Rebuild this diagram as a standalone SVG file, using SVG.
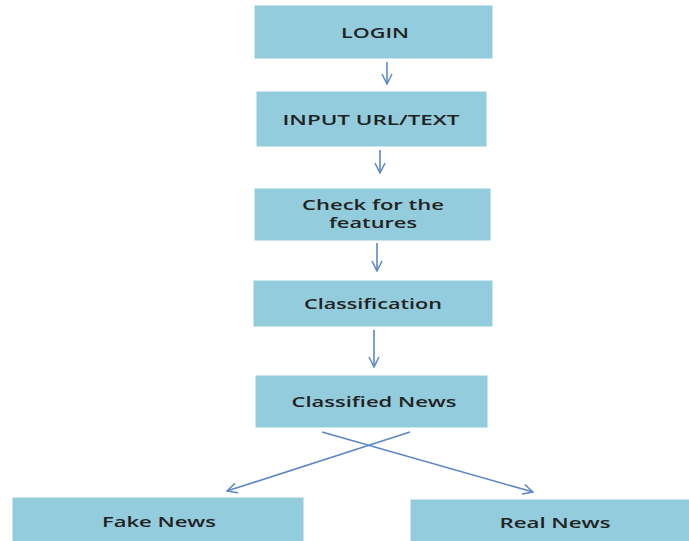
<svg xmlns="http://www.w3.org/2000/svg" width="689" height="541" viewBox="0 0 689 541">
<style>
.box{fill:#93CDDD;stroke:#ffffff;stroke-width:1}
.t{font-family:"Open Sans","Liberation Sans",sans-serif;font-size:15px;fill:#222222;text-anchor:middle;font-weight:600}
.s{font-size:14px}
.c{stroke:#5B87C5;stroke-width:1.6;fill:none}
</style>
<defs>
<marker id="ah" viewBox="0 0 12 12" refX="11" refY="6" markerWidth="12" markerHeight="12" markerUnits="userSpaceOnUse" orient="auto">
<polyline points="1,1 11,6 1,11" fill="none" stroke="#5B87C5" stroke-width="1.5"/>
</marker>
</defs>
<rect width="689" height="541" fill="#ffffff"/>
<g id="login"><rect class="box" x="254" y="5" width="239" height="54"/><text class="t" x="375" y="38" textLength="68" lengthAdjust="spacingAndGlyphs">LOGIN</text></g>
<g id="input"><rect class="box" x="256" y="91" width="231" height="56"/><text class="t" x="371" y="125" textLength="177" lengthAdjust="spacingAndGlyphs">INPUT URL/TEXT</text></g>
<g id="check"><rect class="box" x="254" y="188" width="237" height="53"/><text class="t s" x="373" y="210" textLength="142" lengthAdjust="spacingAndGlyphs">Check for the</text><text class="t s" x="373" y="228" textLength="88" lengthAdjust="spacingAndGlyphs">features</text></g>
<g id="classification"><rect class="box" x="253" y="280" width="240" height="47"/><text class="t" x="373" y="309" textLength="138" lengthAdjust="spacingAndGlyphs">Classification</text></g>
<g id="classified"><rect class="box" x="255" y="375" width="233" height="53"/><text class="t" x="374" y="407" textLength="165" lengthAdjust="spacingAndGlyphs">Classified News</text></g>
<g id="fake"><rect class="box" x="12" y="497" width="292" height="46"/><text class="t" x="159" y="527" textLength="114" lengthAdjust="spacingAndGlyphs">Fake News</text></g>
<g id="real"><rect class="box" x="410" y="499" width="281" height="44"/><text class="t" x="555" y="528" textLength="111" lengthAdjust="spacingAndGlyphs">Real News</text></g>
<g id="connectors">
<line class="c" x1="387" y1="62" x2="387" y2="84" marker-end="url(#ah)"/>
<line class="c" x1="380" y1="150" x2="380" y2="173" marker-end="url(#ah)"/>
<line class="c" x1="377" y1="243" x2="377" y2="271" marker-end="url(#ah)"/>
<line class="c" x1="374" y1="330" x2="374" y2="367" marker-end="url(#ah)"/>
<line class="c" x1="410" y1="432" x2="227" y2="491" marker-end="url(#ah)"/>
<line class="c" x1="322" y1="432" x2="533" y2="492" marker-end="url(#ah)"/>
</g>
</svg>
